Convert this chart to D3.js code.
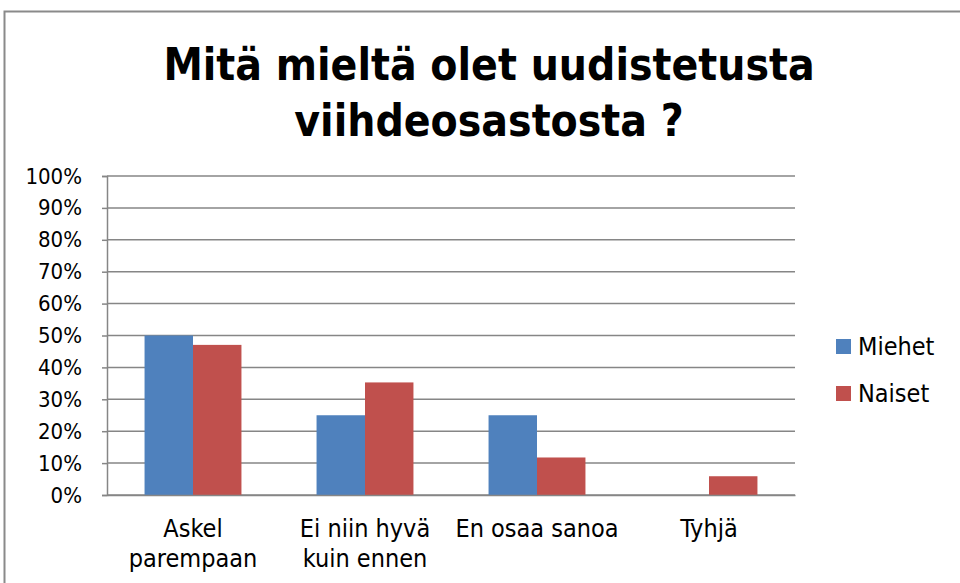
<!DOCTYPE html>
<html><head><meta charset="utf-8">
<script src="https://cdn.jsdelivr.net/npm/d3@7"></script>
<style>body{margin:0;background:#fff;} svg{display:block;}</style>
</head><body>
<svg id="chart" width="960" height="583"></svg>
<script>
const categories = [["Askel","parempaan"],["Ei niin hyvä","kuin ennen"],["En osaa sanoa"],["Tyhjä"]];
const seriesNames = ["Miehet","Naiset"];
const miehet = [50, 25, 25, 0];
const naiset = [47.06, 35.29, 11.76, 5.88];
const yTicks = [0,10,20,30,40,50,60,70,80,90,100];
const colors = ["#4F81BD","#C0504D"];
const titleLines = ["Mitä mieltä olet uudistetusta","viihdeosastosta ?"];

const svg = d3.select("#chart");
const font = "'DejaVu Sans Condensed', 'DejaVu Sans', sans-serif";
// outer border
svg.append("rect").attr("x",4.5).attr("y",11.5).attr("width",970).attr("height",600)
  .attr("fill","none").attr("stroke","#8a8a8a").attr("stroke-width",2);

svg.append("text").attr("x",489).attr("text-anchor","middle")
  .attr("font-family",font).attr("font-weight","bold").attr("font-size",44).attr("fill","#000")
  .selectAll("tspan").data(titleLines).join("tspan")
  .attr("x",489).attr("y",(d,i)=>80+i*56).text(d=>d);

const m = {left:107,right:795,top:176,bottom:495};
const x = d3.scaleBand().domain(d3.range(categories.length)).range([m.left,m.right]);
const y = d3.scaleLinear().domain([0,100]).range([m.bottom,m.top]);
const x1 = d3.scaleBand().domain(seriesNames).range([0,x.bandwidth()]).paddingInner(0).paddingOuter(0.775);

// gridlines
svg.append("g").selectAll("line").data(yTicks).join("line")
  .attr("x1",m.left).attr("x2",m.right).attr("y1",d=>y(d)).attr("y2",d=>y(d))
  .attr("stroke","#868686").attr("stroke-width",1.5);

const data = [miehet, naiset];
seriesNames.forEach((s,si)=>{
  svg.append("g").selectAll("rect").data(data[si]).join("rect")
    .attr("x",(d,i)=>x(i)+x1(s)).attr("width",x1.bandwidth())
    .attr("y",d=>y(d)).attr("height",d=>y(0)-y(d)).attr("fill",colors[si]);
});

// y axis
const yAxis = d3.axisLeft(y).tickValues(yTicks).tickFormat(d=>d+"%").tickSize(5).tickPadding(20);
const gy = svg.append("g").attr("transform",`translate(${m.left},0)`).call(yAxis);
gy.selectAll("path,line").attr("stroke","#868686").attr("stroke-width",1.5);
gy.selectAll("text").attr("font-family",font).attr("font-size",22).attr("fill","#000");
// x axis
const gx = svg.append("g").attr("transform",`translate(0,${m.bottom})`)
  .call(d3.axisBottom(x).tickSize(0).tickFormat(""));
gx.select("path").attr("stroke","#868686").attr("stroke-width",1.5);
svg.append("g").selectAll("text").data(categories).join("text")
  .attr("text-anchor","middle").attr("font-family",font).attr("font-size",25).attr("fill","#000")
  .each(function(d,i){
    d3.select(this).selectAll("tspan").data(d).join("tspan")
      .attr("x",x(i)+x.bandwidth()/2).attr("y",(t,j)=>537+j*30).text(t=>t);
  });

// legend
const lg = svg.append("g").selectAll("g").data(seriesNames).join("g")
  .attr("transform",(d,i)=>`translate(836,${339+i*47})`);
lg.append("rect").attr("width",15).attr("height",15).attr("fill",(d,i)=>colors[i]);
lg.append("text").attr("x",22).attr("y",16).attr("font-family",font).attr("font-size",25).attr("fill","#000").text(d=>d);
</script>
</body></html>
